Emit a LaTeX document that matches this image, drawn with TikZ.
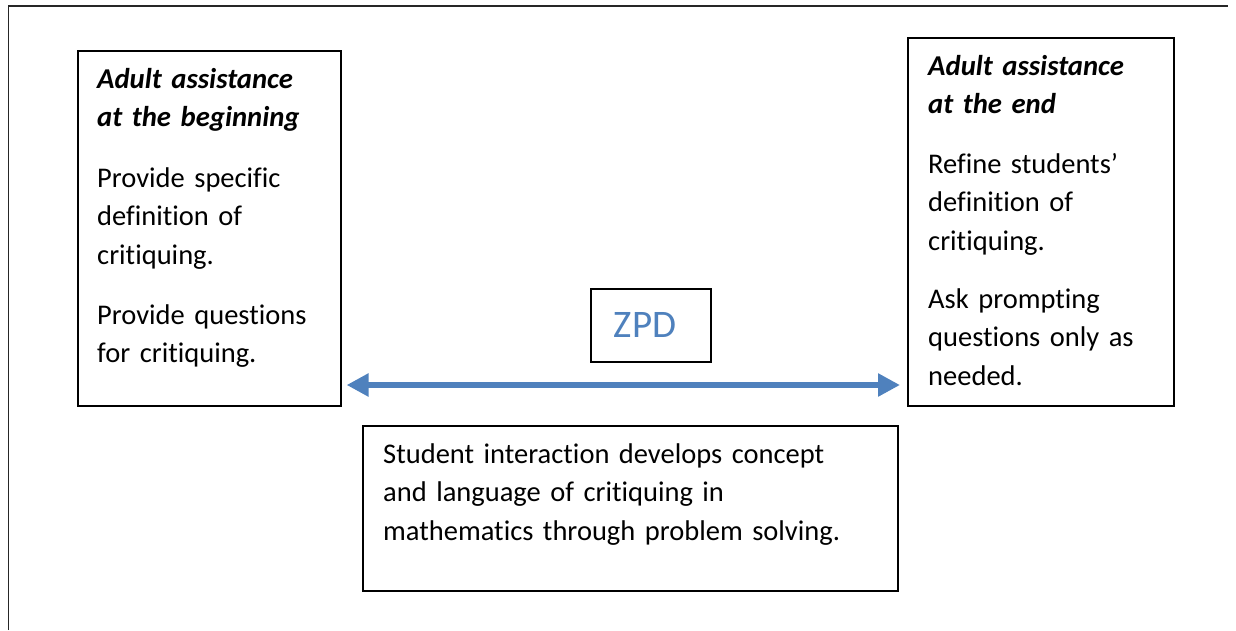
\documentclass[tikz,border=0pt]{standalone}
\usepackage{fontspec}
\setmainfont{Carlito}[Ligatures=NoCommon]
\usepackage{tikz}
\tikzset{>=stealth}
\usetikzlibrary{arrows.meta, positioning}
\definecolor{zpdblue}{HTML}{4F81BD}
\tikzset{
  box/.style={draw, line width=1.6pt, anchor=north west, inner sep=0pt},
  txt/.style={anchor=base west, inner sep=0pt, align=left, text width=#1,
    font=\fontsize{28.5}{38.5}\selectfont},
  hdr/.style={txt=#1, font=\fontsize{28.7}{38.5}\selectfont\bfseries\itshape}
}
\begin{document}
\begin{tikzpicture}[x=1pt, y=-1pt]
            \useasboundingbox (0,0) rectangle (1236,630);
            \draw[line width=1.6pt, black!85] (8.5,630) -- (8.5,6) -- (1228,6);
            % left box
            \node[box, minimum width=263pt, minimum height=355pt] (lbox) at (77,50) {};
            \node[hdr=230pt] (ltitle) at (97,88) {Adult assistance\\at the beginning};
            \node[txt=230pt] (lpa) at (97,187) {Provide specific\\definition of\\critiquing.};
            \node[txt=230pt] (lpb) at (97,324) {Provide questions\\for critiquing.};
            % right box
            \node[box, minimum width=266pt, minimum height=368pt] (rbox) at (907,37) {};
            \node[hdr=235pt] (rtitle) at (928,75) {Adult assistance\\at the end};
            \node[txt=235pt] (rpa) at (928,173) {Refine students’\\definition of\\critiquing.};
            \node[txt=235pt] (rpb) at (928,308) {Ask prompting\\questions only as\\needed.};
            % zpd
            \node[box, minimum width=120pt, minimum height=73pt] (zbox) at (590,288) {};
            \node[anchor=base, inner sep=0pt, text=zpdblue, font=\fontsize{39}{44}\selectfont] (zpd) at (645,337) {ZPD};
            % bottom box
            \node[box, minimum width=535pt, minimum height=165pt] (bbox) at (362,425) {};
            \node[txt=500pt] (btxt) at (383,463) {Student interaction develops concept\\and language of critiquing in\\mathematics through problem solving.};
            \draw[zpdblue, line width=5.5pt, {Triangle[length=22pt,width=22pt]}-{Triangle[length=22pt,width=22pt]}]
              ([xshift=5pt]lbox.east |- 0,385) -- ([xshift=-7pt]rbox.west |- 0,385);
\end{tikzpicture}
\end{document}
